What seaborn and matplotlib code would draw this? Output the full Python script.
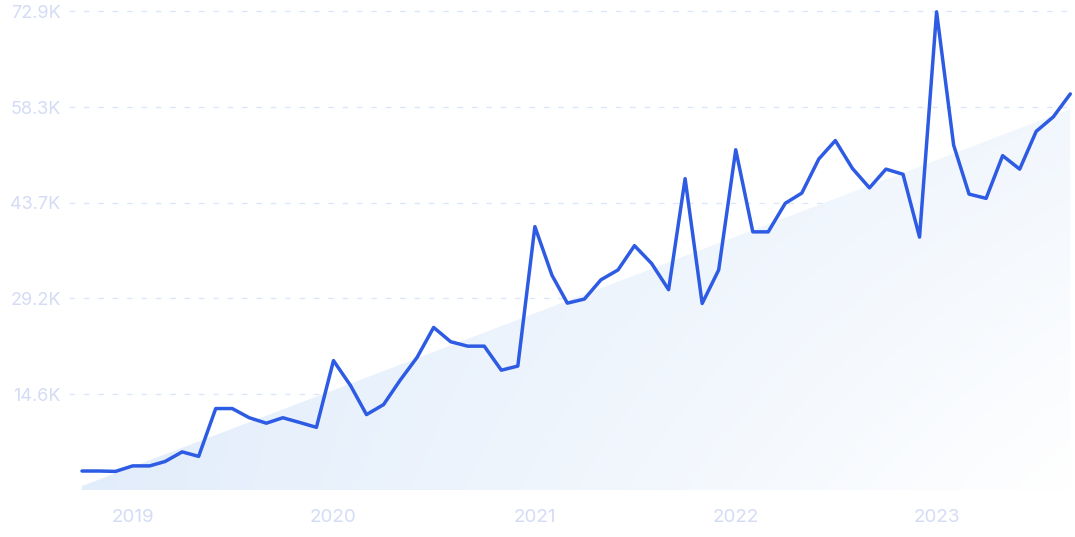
import numpy as np
import pandas as pd
import matplotlib
matplotlib.use("Agg")
import matplotlib.pyplot as plt
import matplotlib.dates as mdates
from matplotlib.colors import to_rgb
import seaborn as sns

# ---- data (values in thousands) ----
months = pd.date_range("2018-10-01", "2023-09-01", freq="MS")
values_k = [2.89, 2.89, 2.83, 3.67, 3.67, 4.34, 5.8, 5.12, 12.4, 12.4,
            11.0, 10.17, 11.0, 10.27, 9.54, 19.7, 15.9, 11.48, 13.0, 16.7,
            20.2, 24.75, 22.57, 21.9, 21.9, 18.24, 18.87, 40.1, 32.7, 28.45,
            29.07, 32.0, 33.5, 37.2, 34.5, 30.5, 47.4, 28.4, 33.5, 51.8,
            39.3, 39.3, 43.65, 45.2, 50.4, 53.2, 48.96, 46.0, 48.85, 48.07,
            38.5, 72.8, 52.5, 45.05, 44.4, 50.9, 48.85, 54.6, 56.8, 60.3]
trend_k = [0.6, 58.0]  # trend line start / end values
ytick_vals = [14.6, 29.2, 43.7, 58.3, 72.9]
ytick_labels = ["14.6K", "29.2K", "43.7K", "58.3K", "72.9K"]
year_ticks = ["2019", "2020", "2021", "2022", "2023"]

df = pd.DataFrame({"month": months, "value": values_k})

sns.set_style("white")
plt.rcParams["font.family"] = ["Inter", "DejaVu Sans"]

fig = plt.figure(figsize=(10.75, 5.37), dpi=100)
ax = fig.add_axes([69 / 1075, 1 - 490 / 537, 1 - 69 / 1075, 490 / 537])

ymax = 74.6
x0 = mdates.date2num(months[0])
x1 = mdates.date2num(months[-1])
month_w = (x1 - x0) / (len(months) - 1)

# gradient trend area
poly = ax.fill_between([months[0], months[-1]], [trend_k[0], trend_k[1]], 0,
                       color="none", linewidth=0)
H, W = 200, 400
xs = np.linspace(0, 1, W)[None, :]
hs = np.linspace(1, 0, H)[:, None]
t = np.clip(xs * (0.55 + 0.45 * (1 - hs)), 0, 1)
c0 = np.array(to_rgb("#e2edfb"))
c1 = np.array(to_rgb("#ffffff"))
img = c0[None, None, :] * (1 - t[..., None]) + c1[None, None, :] * t[..., None]
im = ax.imshow(img, extent=(x0, x1, 0, trend_k[1]), aspect="auto",
               origin="upper", zorder=1, interpolation="bilinear")
im.set_clip_path(poly.get_paths()[0], transform=ax.transData)

# grid
for v in ytick_vals:
    ax.axhline(v, color="#d9e6fb", linewidth=0.9, linestyle=(0, (4.5, 7)),
               zorder=0.5)

sns.lineplot(data=df, x="month", y="value", ax=ax, color="#2d5be3",
             linewidth=2.5, zorder=3)

ax.set_xlim(x0 - 0.776 * month_w, x1 + 0.28 * month_w)
ax.set_ylim(0, ymax)
ax.set_yticks(ytick_vals)
ax.set_yticklabels(ytick_labels)
ax.set_xticks([mdates.date2num(pd.Timestamp(f"{y}-01-01")) for y in year_ticks])
ax.set_xticklabels(year_ticks)
ax.tick_params(axis="y", length=0, pad=6, labelsize=13, labelcolor="#d4dbf5")
ax.tick_params(axis="x", length=0, pad=14, labelsize=13.5, labelcolor="#d4dbf5")
ax.set_xlabel("")
ax.set_ylabel("")
for s in ax.spines.values():
    s.set_visible(False)
ax.grid(False)

fig.savefig("out.png", dpi=100)
